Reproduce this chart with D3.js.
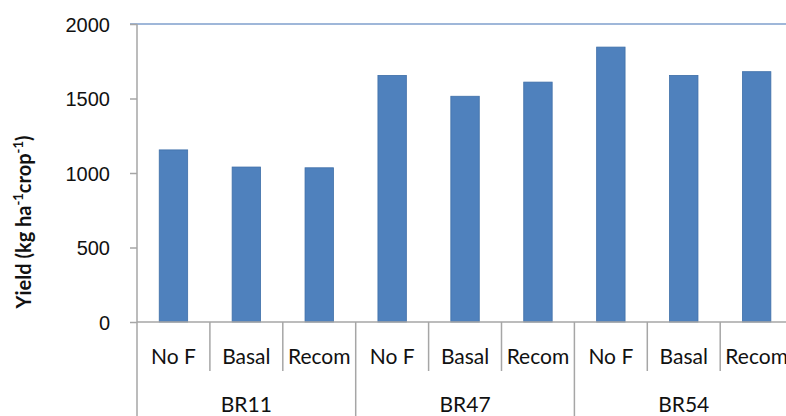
<!DOCTYPE html>
<html>
<head>
<meta charset="utf-8">
<script src="https://cdn.jsdelivr.net/npm/d3@7"></script>
<style>
  body { margin: 0; background: #fff; }
  svg { display: block; font-family: Lato, "Open Sans", sans-serif; }
</style>
</head>
<body>
<svg id="chart" width="786" height="416"></svg>
<script>
// chart data
const groups = ["BR11", "BR47", "BR54"];
const treatments = ["No F", "Basal", "Recom"];
const yields = [1155, 1040, 1035, 1655, 1515, 1610, 1845, 1655, 1680];
const yTicks = [0, 500, 1000, 1500, 2000];

const svg = d3.select("#chart");

const margin = { top: 24, left: 137, bottom: 94 },
    bandW = 72.9,
    height = 416 - margin.top - margin.bottom;

// one band per group/treatment pair
const cats = [];
groups.forEach(g => treatments.forEach(t => cats.push(g + "|" + t)));

const x = d3.scaleBand()
    .domain(cats)
    .range([margin.left, margin.left + bandW * cats.length])
    .paddingInner(0.61)
    .paddingOuter(0.305);

const y = d3.scaleLinear()
    .domain([0, 2000])
    .range([margin.top + height, margin.top]);

const axisColor = "#a6a6a6";

// top border line at 2000
svg.append("line")
    .attr("x1", margin.left - 7).attr("x2", 786)
    .attr("y1", y(2000)).attr("y2", y(2000))
    .style("stroke", "#9fb7d9")
    .style("stroke-width", 2);

// y axis
const yAxis = svg.append("g")
    .attr("transform", "translate(" + margin.left + ",0)")
    .call(d3.axisLeft(y).tickValues(yTicks).tickSize(7).tickPadding(20).tickFormat(d3.format("d")));
yAxis.select(".domain").remove();
yAxis.selectAll(".tick line").style("stroke", axisColor).style("stroke-width", 1.5);
yAxis.selectAll(".tick text")
    .style("font-size", "20px")
    .style("fill", "#111")
    .attr("dy", "0.36em");

// vertical axis line, runs down through the label area
svg.append("line")
    .attr("x1", margin.left).attr("x2", margin.left)
    .attr("y1", y(2000)).attr("y2", 416)
    .style("stroke", axisColor).style("stroke-width", 1.5);

// bars
svg.selectAll(".bar")
    .data(yields)
    .enter().append("rect")
    .attr("class", "bar")
    .attr("x", (d, i) => x(cats[i]))
    .attr("width", x.bandwidth())
    .attr("y", d => y(d))
    .attr("height", d => y(0) - y(d))
    .style("fill", "#4f81bd")
    .style("stroke", "#3f6fa8")
    .style("stroke-width", 0.8);

// baseline
svg.append("line")
    .attr("x1", margin.left).attr("x2", 786)
    .attr("y1", y(0)).attr("y2", y(0))
    .style("stroke", axisColor).style("stroke-width", 1.5);

// dividers between categories: short inside a group, long at group edges
cats.forEach((c, i) => {
    if (i === 0) return;
    const xPos = margin.left + bandW * i;
    const groupEdge = i % treatments.length === 0;
    svg.append("line")
        .attr("x1", xPos).attr("x2", xPos)
        .attr("y1", y(0)).attr("y2", groupEdge ? 416 : 371)
        .style("stroke", axisColor).style("stroke-width", 1.5);
});

// treatment labels
svg.selectAll(".cat")
    .data(cats)
    .enter().append("text")
    .attr("class", "cat")
    .attr("x", d => x(d) + x.bandwidth() / 2)
    .attr("y", 364)
    .attr("text-anchor", "middle")
    .style("font-size", "21px")
    .style("fill", "#111")
    .text(d => d.split("|")[1]);

// group labels
svg.selectAll(".grp")
    .data(groups)
    .enter().append("text")
    .attr("class", "grp")
    .attr("x", (d, i) => margin.left + bandW * (i * 3 + 1.5))
    .attr("y", 412)
    .attr("text-anchor", "middle")
    .style("font-size", "21px")
    .style("fill", "#111")
    .text(d => d);

// y axis title with superscripts
const title = svg.append("text")
    .attr("transform", "translate(31,222) rotate(-90)")
    .attr("text-anchor", "middle")
    .style("font-size", "20px")
    .style("font-weight", "bold")
    .style("fill", "#111");
title.append("tspan").text("Yield (kg ha");
title.append("tspan").attr("dy", -8).style("font-size", "13px").text("-1");
title.append("tspan").attr("dy", 8).text("crop");
title.append("tspan").attr("dy", -8).style("font-size", "13px").text("-1");
title.append("tspan").attr("dy", 8).text(")");
</script>
</body>
</html>
